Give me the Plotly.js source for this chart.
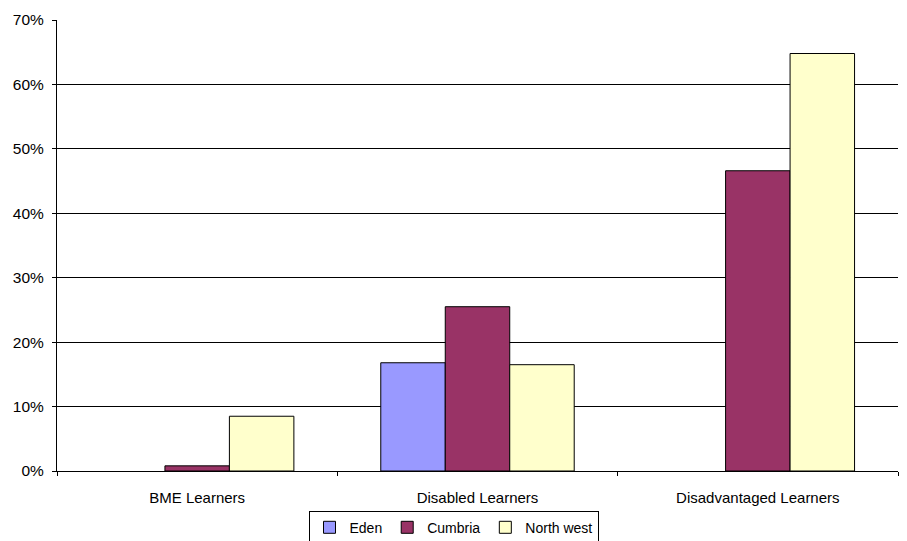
<!DOCTYPE html>
<html><head><meta charset="utf-8">
<script src="https://cdn.plot.ly/plotly-3.0.1.min.js"></script>
<style>html,body{margin:0;padding:0;background:#fff}#chart{width:907px;height:541px}</style>
</head><body><div id="chart"></div>
<script>
const categories = ["BME Learners", "Disabled Learners", "Disadvantaged Learners"];
const eden = [null, 16.8, null];
const cumbria = [0.8, 25.5, 46.6];
const northWest = [8.5, 16.5, 64.8];
const seriesNames = ["Eden", "Cumbria", "North west"];
const colors = ["#9999FF", "#993366", "#FFFFCC"];
const yTicks = [0, 10, 20, 30, 40, 50, 60, 70];
const yTickText = yTicks.map(v => v + "%");

const data = [eden, cumbria, northWest].map((vals, i) => ({
  type: "bar", name: seriesNames[i], x: categories, y: vals,
  marker: {color: colors[i], line: {color: "#000", width: 1}},
  hoverinfo: "skip"
}));

const layout = {
  width: 907, height: 541,
  margin: {l: 57, r: 9, t: 20, b: 70, autoexpand: false},
  paper_bgcolor: "#fff", plot_bgcolor: "#fff",
  barmode: "group", bargap: 0.31, bargroupgap: 0,
  font: {family: "Liberation Sans, Arial, sans-serif", size: 13, color: "#000"},
  xaxis: {
    showline: true, linecolor: "#000", linewidth: 1,
    ticks: "outside", ticklen: 4, tickcolor: "#000", tickson: "boundaries",
    showgrid: false, tickfont: {size: 15}, ticklabelstandoff: 13
  },
  yaxis: {
    range: [0, 70], tickvals: yTicks, ticktext: yTickText,
    showline: true, linecolor: "#000", linewidth: 1,
    ticks: "outside", ticklen: 4, tickcolor: "#000",
    showgrid: true, gridcolor: "#000", gridwidth: 1,
    zeroline: true, zerolinecolor: "#000", zerolinewidth: 1,
    tickfont: {size: 15.5}, ticklabelstandoff: 5
  },
  showlegend: true,
  legend: {
    orientation: "h", x: 0.5, xanchor: "center", xref: "container",
    y: 0.056, yanchor: "top", yref: "container",
    bordercolor: "#000", borderwidth: 1, bgcolor: "#fff",
    font: {size: 14}, itemwidth: 30, tracegroupgap: 0
  }
};

Plotly.newPlot("chart", data, layout, {displayModeBar: false, staticPlot: true});
</script></body></html>
